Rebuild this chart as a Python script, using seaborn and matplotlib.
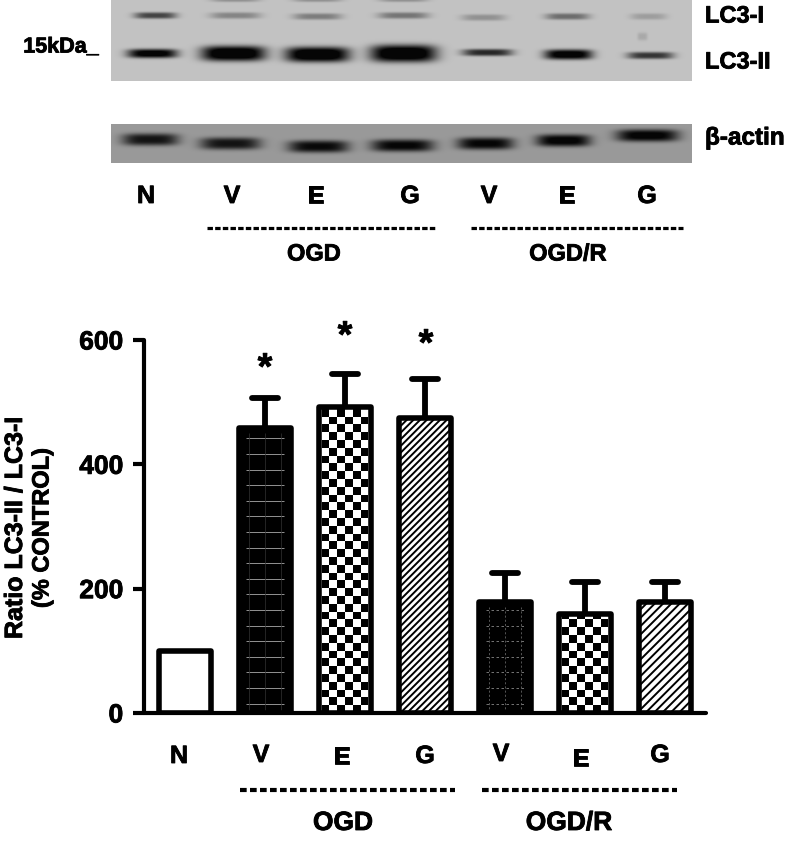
import numpy as np
import matplotlib
matplotlib.use("Agg")
import matplotlib.pyplot as plt
import matplotlib.patheffects as pe
from matplotlib.patches import Rectangle
import seaborn as sns

W, H = 786, 844

# Bar values
groups = ["N", "OGD V", "OGD E", "OGD G", "OGDR V", "OGDR E", "OGDR G"]
means = [100, 458, 493, 474, 179, 160, 179]
err_tops = [100, 506, 545, 538, 226, 210, 211]
fills = ["none", "grid", "check", "diag", "grid_dash", "check", "diag_wide"]
y_ticks = [0, 200, 400, 600]

# Lane labels
lane_labels = ["N", "V", "E", "G", "V", "E", "G"]
blot_label_x = [146, 232, 316, 410, 489, 567, 647]
bar_label_x = [179, 261, 342, 425, 501, 581, 660]
bar_label_y = [756, 755, 757, 756, 754, 759, 755]

# Western blot bands: relative darkness of each lane
lc3i_dark = [0.62, 0.30, 0.34, 0.38, 0.24, 0.42, 0.18]
lc3ii_dark = [0.90, 1.00, 1.00, 1.00, 0.68, 0.92, 0.62]
actin_dark = [0.85, 0.85, 0.92, 0.95, 0.95, 1.00, 1.00]

HEAVY = [pe.withStroke(linewidth=0.6, foreground="black")]


def px_axes(fig, x0, y0, x1, y1):
    return fig.add_axes([x0 / W, 1 - y1 / H, (x1 - x0) / W, (y1 - y0) / H])


def add_band(img, cx, cy, half_w, half_h, dark):
    yy, xx = np.mgrid[0:img.shape[0], 0:img.shape[1]]
    d = (np.abs(xx - cx) / half_w) ** 4 + (np.abs(yy - cy) / half_h) ** 3
    img -= dark * np.exp(-d)


plt.rcParams["font.family"] = ["Liberation Sans", "DejaVu Sans"]
plt.rcParams["font.weight"] = "bold"
plt.rcParams["hatch.linewidth"] = 1.4

fig = plt.figure(figsize=(W / 100, H / 100), dpi=100)

# ── Blots ────────────────────────────────────────────────────────────────────
top_img = np.full((81, 581), 0.76)
x1 = [155, 235, 317, 403, 483, 567, 648]
w1 = [21, 25, 24, 25, 22, 22, 18]
x2 = [152, 233, 317, 403, 487, 568, 650]
w2 = [25, 32, 32, 33, 25, 24, 23]
h2 = [4.5, 7.5, 7.5, 8.5, 3.5, 5, 3.5]
y1 = [15, 15, 16, 15, 17, 16, 16]
y2 = [53, 53, 54, 53, 52, 54, 55]
for i in range(7):
    add_band(top_img, x1[i] - 111, y1[i], w1[i], 3.2, lc3i_dark[i] * 0.8)
    add_band(top_img, x2[i] - 111, y2[i], w2[i], h2[i], lc3ii_dark[i] * 0.9)
for cx in [235, 317, 403]:
    add_band(top_img, cx - 111, -1, 24, 2.5, 0.2)
add_band(top_img, 642 - 111, 36, 5, 4, 0.1)

actin_img = np.full((39, 581), 0.60)
xa = [150, 230, 318, 402, 485, 563, 647]
wa = [28, 30, 30, 31, 28, 27, 31]
ya = [139, 143, 146, 145, 143, 140, 135]
for i in range(7):
    add_band(actin_img, xa[i] - 111, ya[i] - 124, wa[i], 6, actin_dark[i] * 0.62)

for img, box in [(top_img, (111, 0, 692, 81)), (actin_img, (111, 124, 692, 163))]:
    bax = px_axes(fig, *box)
    sns.heatmap(np.clip(img, 0.02, 1), ax=bax, cmap="gray", vmin=0, vmax=1, cbar=False,
                xticklabels=False, yticklabels=False, rasterized=True)

# ── Bar chart ────────────────────────────────────────────────────────────────
ax = px_axes(fig, 144, 340, 706, 713)
sns.barplot(x=groups, y=means, color="white", saturation=1, width=0.66,
            edgecolor="black", linewidth=0, ax=ax, zorder=2)
ax.set_xlim(-0.5125, 6.5125)
ax.set_ylim(0, 600)
ax.set_yticks(y_ticks)
ax.set_xticks([])
ax.set_xlabel("")
ax.set_ylabel("")
ax.tick_params(axis="y", length=8, width=3, labelsize=19, pad=7)
for lab in ax.get_yticklabels():
    lab.set_path_effects(HEAVY)
for s in ["top", "right"]:
    ax.spines[s].set_visible(False)
for s in ["left", "bottom"]:
    ax.spines[s].set_linewidth(3)
    ax.spines[s].set_capstyle("round")

EDGE = 4.0
ERR_LW = 4.2
CELL_X = 7.8 / 80
CELL_Y = 7.8 * 600 / 373

for i, (bar, kind) in enumerate(zip(ax.patches, fills)):
    x0, w, h = bar.get_x(), bar.get_width(), bar.get_height()
    if kind in ("grid", "grid_dash"):
        bar.set_facecolor("black")
        style = "-" if kind == "grid" else (0, (3, 3))
        col = "#aaaaaa" if kind == "grid" else "#888888"
        yl = np.arange(15.6 * 600 / 373 * 0.6, h - 8, 15.6 * 600 / 373)
        ax.hlines(yl, x0 + 0.09, x0 + w - 0.09, colors=col, linewidth=0.6, linestyles=style, zorder=3)
        xl = x0 + w / 2 + np.array([-0.2, 0, 0.2])
        ax.vlines(xl, 0, h - 8, colors="#333333" if kind == "grid" else "#777777",
                  linewidth=0.5, linestyles=style, zorder=3)
    elif kind == "check":
        xe = np.arange(0, 7) * CELL_X + x0 + (w - 6 * CELL_X) / 2
        ye = np.arange(0, h + CELL_Y, CELL_Y)
        cells = np.indices((len(ye) - 1, 6)).sum(axis=0) % 2
        mesh = ax.pcolormesh(xe, ye, cells, cmap="gray", vmin=0, vmax=1, zorder=3)
        mesh.set_clip_path(bar)
    elif kind.startswith("diag"):
        bar.set_hatch("////" if kind == "diag_wide" else "/////")
        bar.set_edgecolor("black")
    ax.add_patch(Rectangle((x0, 0), w, h, fill=False, edgecolor="black", linewidth=EDGE,
                           joinstyle="round", zorder=4))
    if err_tops[i] > means[i]:
        cx = x0 + w / 2
        ax.vlines(cx, means[i], err_tops[i], colors="black", linewidth=ERR_LW, zorder=1)
        ax.hlines(err_tops[i], cx - 0.165, cx + 0.165, colors="black", linewidth=ERR_LW,
                  capstyle="round", zorder=1)

# ── Text, in picture pixels ──────────────────────────────────────────────────
ov = fig.add_axes([0, 0, 1, 1], facecolor="none")
ov.set_xlim(0, W)
ov.set_ylim(H, 0)
ov.axis("off")


def label(x, y, s, size, ha="center", rotation=0):
    ov.text(x, y, s, fontsize=size, ha=ha, va="center", rotation=rotation, path_effects=HEAVY)


label(61, 47, "15kDa_", 15.5)
label(705, 16, "LC3-I", 17, ha="left")
label(705, 62, "LC3-II", 17, ha="left")
label(705, 138, "β-actin", 17.5, ha="left")
for x, s in zip(blot_label_x, lane_labels):
    label(x, 196, s, 18)
for x, y, s in zip(bar_label_x, bar_label_y, lane_labels):
    label(x, y, s, 18)
label(314, 254, "OGD", 17)
label(568, 254, "OGD/R", 17)
label(343, 823, "OGD", 19)
label(569, 823, "OGD/R", 19)

label(15, 528, "Ratio LC3-II / LC3-I", 18, rotation=90)
label(42, 528, "(% CONTROL)", 17, rotation=90)

for x, y in [(265, 369), (345, 337), (426, 345)]:
    label(x, y, "*", 27)

for a, b, y, lw, dash in [(207, 435, 228, 2.3, (1.7, 0.7)), (471, 683, 228, 2.3, (1.7, 0.7)),
                          (240, 455, 790, 3.0, (1.6, 0.8)), (482, 677, 790, 3.0, (1.6, 0.8))]:
    ov.plot([a, b], [y, y], color="black", linewidth=lw, linestyle=(0, dash))

fig.savefig("out.png", dpi=100)
